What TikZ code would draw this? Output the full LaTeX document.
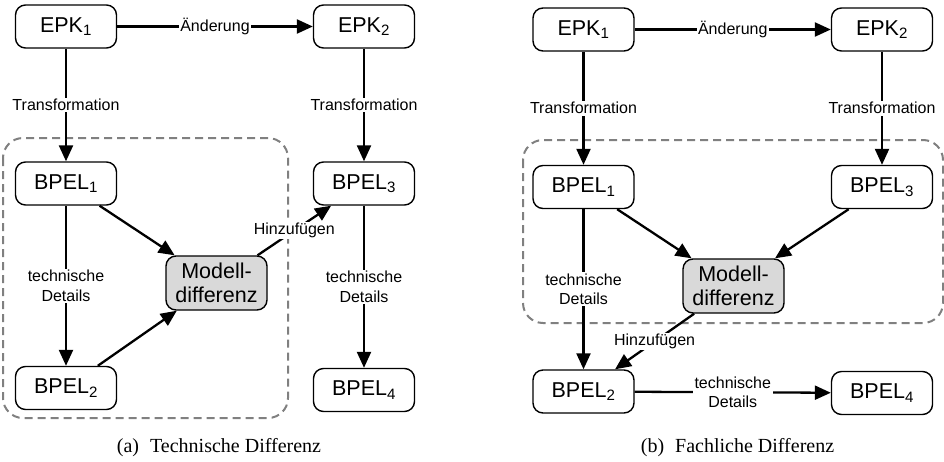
\documentclass[tikz,border=0pt]{standalone}
\usepackage{fontspec}
\setmainfont{Liberation Serif}
\newfontfamily\arialf{Liberation Sans}
\usetikzlibrary{arrows.meta}
\definecolor{mgray}{HTML}{D9D9D9}
\definecolor{dgray}{HTML}{808080}
\tikzset{
 box/.style={draw, line width=1.4pt, rounded corners=10pt, fill=white, minimum width=101pt, minimum height=43pt, inner sep=2pt, font=\arialf\fontsize{21.5}{24}\selectfont},
 diffbox/.style={box, fill=mgray, minimum height=54pt, align=center},
 conn/.style={line width=2.3pt, -{Triangle[length=16pt,width=14pt]}},
 lab/.style={fill=white, inner sep=1.5pt, font=\arialf\fontsize{16}{19.5}\selectfont, align=center},
 group/.style={draw=dgray, dash pattern=on 8pt off 5pt, line width=2pt, rounded corners=20pt},
 captext/.style={font=\fontsize{20}{24}\selectfont}
}
\begin{document}
\begin{tikzpicture}[x=1pt,y=-1pt]
\useasboundingbox (0,0) rectangle (944,461);
% ---- left panel
\draw[group] (3,138) rectangle (288,418);
\node[box] (aE1) at (66,26.5) {EPK\textsubscript{1}};
\node[box] (aE2) at (364,26.5) {EPK\textsubscript{2}};
\node[box] (aB1) at (66,183.5) {BPEL\textsubscript{1}};
\node[box] (aB3) at (364,183.5) {BPEL\textsubscript{3}};
\node[diffbox] (aD) at (216.5,283) {Modell-\\differenz};
\node[box] (aB2) at (66,388) {BPEL\textsubscript{2}};
\node[box] (aB4) at (364,390) {BPEL\textsubscript{4}};
\draw[conn] (aE1) -- node[lab]{Änderung} (aE2);
\draw[conn] (aE1) -- node[lab]{Transformation} (aB1);
\draw[conn] (aE2) -- node[lab]{Transformation} (aB3);
\draw[conn] (aB1) -- node[lab]{technische\\Details} (aB2);
\draw[conn] (aB3) -- node[lab]{technische\\Details} (aB4);
\draw[conn] (aB1) -- (aD);
\draw[conn] (aB2) -- (aD);
\draw[conn] (aD) -- node[lab]{Hinzufügen} (aB3);
\node[captext] (capa) at (219,448) {(a)\hspace{0.3em} Technische Differenz};
% ---- right panel
\draw[group] (523,140) rectangle (943,323);
\node[box] (bE1) at (583.5,29.5) {EPK\textsubscript{1}};
\node[box] (bE2) at (882,29.5) {EPK\textsubscript{2}};
\node[box] (bB1) at (583.5,187) {BPEL\textsubscript{1}};
\node[box] (bB3) at (882,187) {BPEL\textsubscript{3}};
\node[diffbox] (bD) at (733.5,286) {Modell-\\differenz};
\node[box] (bB2) at (583.5,391.5) {BPEL\textsubscript{2}};
\node[box] (bB4) at (882,393) {BPEL\textsubscript{4}};
\draw[conn] (bE1) -- node[lab]{Änderung} (bE2);
\draw[conn] (bE1) -- node[lab]{Transformation} (bB1);
\draw[conn] (bE2) -- node[lab]{Transformation} (bB3);
\draw[conn] (bB1) -- node[lab]{technische\\Details} (bB2);
\draw[conn] (bB1) -- (bD);
\draw[conn] (bB3) -- (bD);
\draw[conn] (bD) -- node[lab]{Hinzufügen} (bB2);
\draw[conn] (bB2) -- node[lab]{technische\\Details} (bB4);
\node[captext] (capb) at (737.5,448) {(b)\hspace{0.3em} Fachliche Differenz};
\end{tikzpicture}
\end{document}
